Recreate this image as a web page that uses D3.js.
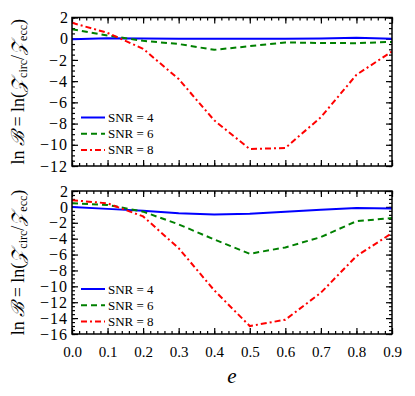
<!DOCTYPE html>
<html>
<head>
<meta charset="utf-8">
<script src="https://cdn.jsdelivr.net/npm/d3@7"></script>
<style>
  body { margin: 0; background: #fff; }
  svg text { font-family: "Liberation Serif", serif; fill: #000; }
</style>
</head>
<body>
<div id="chart"></div>
<script>
// eccentricity grid
const ecc = [0.0, 0.1, 0.2, 0.3, 0.4, 0.5, 0.6, 0.7, 0.8, 0.9];

// upper panel
const topSnr4 = [-0.05, 0.05, 0.02, 0.0, 0.0, 0.0, 0.0, 0.02, 0.08, 0.0];
const topSnr6 = [0.9, 0.3, -0.2, -0.5, -1.05, -0.7, -0.35, -0.4, -0.42, -0.3];
const topSnr8 = [1.5, 0.55, -0.95, -3.8, -7.7, -10.4, -10.3, -7.4, -3.4, -1.2];

// lower panel
const botSnr4 = [0.0, -0.25, -0.5, -0.8, -0.95, -0.85, -0.6, -0.35, -0.15, -0.2];
const botSnr6 = [0.45, 0.25, -0.6, -2.2, -4.1, -5.9, -5.1, -3.8, -1.8, -1.4];
const botSnr8 = [0.85, 0.45, -1.2, -5.2, -10.5, -15.0, -14.2, -10.8, -6.2, -3.3];

const seriesNames = ["SNR = 4", "SNR = 6", "SNR = 8"];
const topTicks = [-12, -10, -8, -6, -4, -2, 0, 2];
const botTicks = [-16, -14, -12, -10, -8, -6, -4, -2, 0, 2];
const xTicks = [0.0, 0.1, 0.2, 0.3, 0.4, 0.5, 0.6, 0.7, 0.8, 0.9];

const styles = [
  { color: "#0000ff", dash: null },
  { color: "#008000", dash: "6,4" },
  { color: "#ff0000", dash: "6,3,2,3" },
];

const width = 415;
const height = 396;
const serif = "'Liberation Serif', serif";

const svg = d3.select("#chart").append("svg")
  .attr("width", width)
  .attr("height", height)
  .attr("viewBox", [0, 0, width, height]);

const x = d3.scaleLinear().domain([0, 0.9]).range([72, 392]);

const panels = [
  { series: [topSnr4, topSnr6, topSnr8], domain: [-12, 2], range: [166, 17.5], ticks: topTicks, xLabels: false, legendY: 117.5 },
  { series: [botSnr4, botSnr6, botSnr8], domain: [-16, 2], range: [334, 191], ticks: botTicks, xLabels: true, legendY: 289 },
];

panels.forEach(p => {
  const y = d3.scaleLinear().domain(p.domain).range(p.range);
  const g = svg.append("g");
  const [y0, y1] = p.range;

  const xMinor = d3.range(0, 0.9001, 0.02);
  const yMinor = d3.range(p.domain[0], p.domain[1] + 0.001, 0.5);

  // minor ticks, all four sides
  g.append("g").attr("transform", `translate(0,${y0})`)
    .call(d3.axisBottom(x).tickValues(xMinor).tickFormat("").tickSizeInner(-3).tickSizeOuter(0));
  g.append("g").attr("transform", `translate(0,${y1})`)
    .call(d3.axisTop(x).tickValues(xMinor).tickFormat("").tickSizeInner(-3).tickSizeOuter(0));
  g.append("g").attr("transform", `translate(${x.range()[0]},0)`)
    .call(d3.axisLeft(y).tickValues(yMinor).tickFormat("").tickSizeInner(-3).tickSizeOuter(0));
  g.append("g").attr("transform", `translate(${x.range()[1]},0)`)
    .call(d3.axisRight(y).tickValues(yMinor).tickFormat("").tickSizeInner(-3).tickSizeOuter(0));

  // major ticks
  const xb = g.append("g").attr("transform", `translate(0,${y0})`)
    .call(d3.axisBottom(x).tickValues(xTicks)
      .tickFormat(p.xLabels ? d3.format(".1f") : "")
      .tickSizeInner(-6).tickSizeOuter(0).tickPadding(12));
  g.append("g").attr("transform", `translate(0,${y1})`)
    .call(d3.axisTop(x).tickValues(xTicks).tickFormat("").tickSizeInner(-6).tickSizeOuter(0));
  const yl = g.append("g").attr("transform", `translate(${x.range()[0]},0)`)
    .call(d3.axisLeft(y).tickValues(p.ticks).tickFormat(d3.format("d")).tickSizeInner(-6).tickSizeOuter(0).tickPadding(4));
  g.append("g").attr("transform", `translate(${x.range()[1]},0)`)
    .call(d3.axisRight(y).tickValues(p.ticks).tickFormat("").tickSizeInner(-6).tickSizeOuter(0));

  g.selectAll(".tick line").attr("stroke", "#000").attr("stroke-width", 1.2);
  g.selectAll(".domain").remove();
  g.selectAll("g").attr("font-family", serif);
  xb.selectAll(".tick text").style("font-family", serif).attr("font-size", 15);
  // widen the minus a little, as in TeX
  yl.selectAll(".tick text").style("font-family", serif).attr("font-size", 16)
    .attr("letter-spacing", d => d < 0 ? 1 : 0);

  const clipId = "clip" + y0;
  svg.append("clipPath").attr("id", clipId).append("rect")
    .attr("x", x.range()[0]).attr("y", y1)
    .attr("width", x.range()[1] - x.range()[0]).attr("height", y0 - y1);

  const line = d3.line().x((d, i) => x(ecc[i])).y(d => y(d));
  p.series.forEach((s, k) => {
    g.append("path")
      .datum(s)
      .attr("clip-path", `url(#${clipId})`)
      .attr("fill", "none")
      .attr("stroke", styles[k].color)
      .attr("stroke-width", 2)
      .attr("stroke-dasharray", styles[k].dash)
      .attr("d", line);
  });

  g.append("rect")
    .attr("x", x.range()[0]).attr("y", y1)
    .attr("width", x.range()[1] - x.range()[0]).attr("height", y0 - y1)
    .attr("fill", "none").attr("stroke", "#000").attr("stroke-width", 1.5);

  // legend
  const leg = g.append("g");
  seriesNames.forEach((name, k) => {
    const ly = p.legendY + k * 16.2;
    leg.append("line")
      .attr("x1", 81).attr("x2", 105).attr("y1", ly).attr("y2", ly)
      .attr("stroke", styles[k].color).attr("stroke-width", 2)
      .attr("stroke-dasharray", styles[k].dash);
    leg.append("text")
      .attr("x", 108).attr("y", ly).attr("dy", "0.35em")
      .style("font-family", serif)
      .attr("font-size", 13).text(name);
  });

  // y label
  const cy = (y0 + y1) / 2;
  const lab = g.append("text")
    .attr("transform", `translate(24,${cy}) rotate(-90)`)
    .attr("text-anchor", "middle")
    .style("font-family", serif)
    .attr("font-size", 18);
  lab.append("tspan").text("ln ");
  lab.append("tspan").attr("font-style", "italic").text("ℬ");
  lab.append("tspan").text(" = ln(");
  lab.append("tspan").attr("font-style", "italic").text("𝒵");
  lab.append("tspan").attr("font-size", 12).attr("dy", 3).text("circ");
  lab.append("tspan").attr("dy", -3).text("/");
  lab.append("tspan").attr("font-style", "italic").text("𝒵");
  lab.append("tspan").attr("font-size", 12).attr("dy", 3).text("ecc");
  lab.append("tspan").attr("dy", -3).text(")");
});

svg.append("text")
  .attr("x", x(0.45)).attr("y", 383)
  .attr("text-anchor", "middle")
  .attr("font-style", "italic")
  .style("font-family", serif)
  .attr("font-size", 21)
  .text("e");
</script>
</body>
</html>
